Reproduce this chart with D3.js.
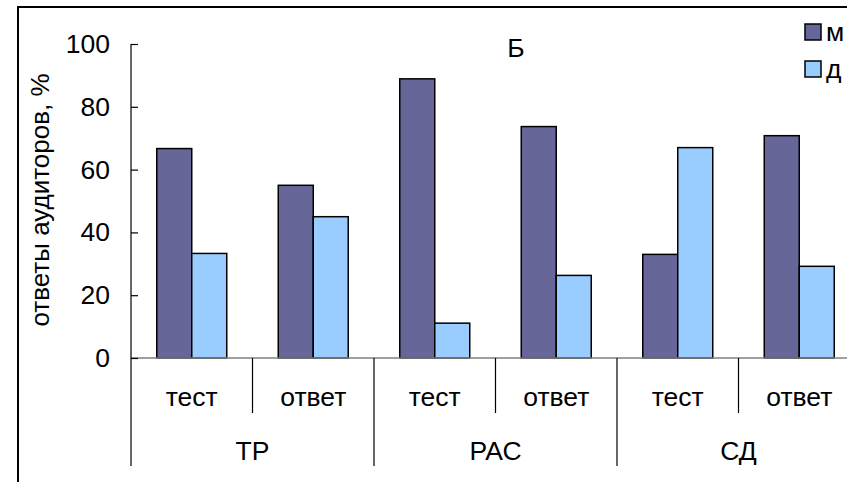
<!DOCTYPE html>
<html><head><meta charset="utf-8">
<script src="https://cdn.jsdelivr.net/npm/d3@7"></script>
<style>html,body{margin:0;padding:0;background:#fff;}svg{display:block;font-family:"Liberation Sans",Arial,sans-serif;}</style>
</head><body>
<svg id="c" width="847" height="482"></svg>
<script>
const groups = ["ТР", "РАС", "СД"];
const subcats = ["тест", "ответ"];
const seriesNames = ["м", "д"];
const valuesM = [66.7, 55, 88.9, 73.7, 33, 70.8];
const valuesD = [33.3, 45, 11.1, 26.3, 67, 29.2];
const yTicks = [0, 20, 40, 60, 80, 100];
const colors = ["#666699", "#99CCFF"];

const FS = 25;
const SX = 1.06; // slight horizontal stretch of the lettering, as in the picture
const svg = d3.select("#c");
svg.append("rect").attr("width", 847).attr("height", 482).attr("fill", "#fff");

function label(sel, px, py, txt, anchor) {
  return sel.append("text")
    .attr("transform", `translate(${px},${py}) scale(${SX},1)`)
    .attr("text-anchor", anchor || "middle").attr("font-size", FS).attr("fill", "#000").text(txt);
}

// outer frame (partial, as in the cropped picture)
svg.append("path").attr("d", "M18,482V7H847").attr("fill", "none").attr("stroke", "#000").attr("stroke-width", 2);

const x0 = 131, catW = 121.5, y0 = 358, y100 = 44;
const cats = [];
groups.forEach((g, gi) => subcats.forEach((s, si) => cats.push({g, s, i: gi * 2 + si})));
const x = d3.scaleBand().domain(cats.map(c => c.i)).range([x0, x0 + catW * cats.length]).padding(0);
const xi = d3.scaleBand().domain(seriesNames).range([0, x.bandwidth()]).paddingInner(0).paddingOuter(0.736);
const y = d3.scaleLinear().domain([0, 100]).range([y0, y100]);

// bars
const data = cats.map((c, k) => ({c, vals: [valuesM[k], valuesD[k]]}));
const gBars = svg.append("g");
data.forEach(d => {
  seriesNames.forEach((s, si) => {
    gBars.append("rect")
      .attr("x", x(d.c.i) + xi(s))
      .attr("y", y(d.vals[si]))
      .attr("width", xi.bandwidth())
      .attr("height", y(0) - y(d.vals[si]))
      .attr("fill", colors[si])
      .attr("stroke", "#000")
      .attr("stroke-width", 1.5);
  });
});

// x axis line
svg.append("line").attr("x1", x0).attr("x2", 847).attr("y1", y0).attr("y2", y0).attr("stroke", "#808080").attr("stroke-width", 1.5);

// y axis
const yAxis = d3.axisRight(y).tickValues(yTicks).tickSize(7).tickFormat("");
const ga = svg.append("g").attr("transform", `translate(${x0},0)`).call(yAxis);
ga.select(".domain").remove();
ga.selectAll("line").attr("stroke", "#000").attr("stroke-width", 1.2);
svg.append("line").attr("x1", x0).attr("x2", x0).attr("y1", y100).attr("y2", 466).attr("stroke", "#000").attr("stroke-width", 1.2);
const gy = svg.append("g");
yTicks.forEach(t => label(gy, 110, y(t) + 9, t, "end"));

// category separators
cats.forEach((c, k) => {
  if (k === 0) return;
  const xx = x(c.i);
  svg.append("line").attr("x1", xx).attr("x2", xx).attr("y1", y0).attr("y2", k % 2 === 0 ? 466 : 413)
    .attr("stroke", "#000").attr("stroke-width", 1.2);
});
// sub-category labels
const gc = svg.append("g");
cats.forEach(d => label(gc, x(d.i) + x.bandwidth() / 2, 406, d.s));
// group labels
groups.forEach((g, gi) => label(gc, x(gi * 2) + x.bandwidth(), 460, g));

// y title
svg.append("text").attr("transform", "translate(49,200) rotate(-90) scale(1.04,1.06)")
  .attr("text-anchor", "middle").attr("font-size", FS).text("ответы аудиторов, %");

// chart title
label(svg, 516, 57, "Б");

// legend
seriesNames.forEach((s, si) => {
  const ly = 24 + si * 37;
  svg.append("rect").attr("x", 805).attr("y", ly).attr("width", 16).attr("height", 16)
    .attr("fill", colors[si]).attr("stroke", "#000").attr("stroke-width", 1.5);
  label(svg, 826, ly + 17, s, "start");
});
</script>
</body></html>
